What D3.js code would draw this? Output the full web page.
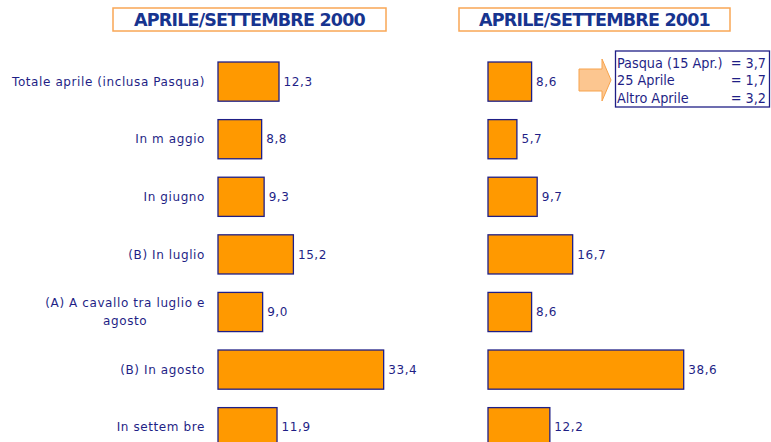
<!DOCTYPE html>
<html><head><meta charset="utf-8">
<script src="https://cdn.jsdelivr.net/npm/d3@7"></script>
<style>body{margin:0;background:#fff}svg{display:block}</style>
</head><body>
<svg id="c" width="771" height="442"></svg>
<script>
const categories = [
  "Totale aprile (inclusa Pasqua)",
  "In m aggio",
  "In giugno",
  "(B) In luglio",
  "(A) A cavallo tra luglio e|agosto",
  "(B) In agosto",
  "In settem bre"
];
const values2000 = [12.3, 8.8, 9.3, 15.2, 9.0, 33.4, 11.9];
const values2001 = [8.6, 5.7, 9.7, 16.7, 8.6, 38.6, 12.2];
const titles = ["APRILE/SETTEMBRE 2000", "APRILE/SETTEMBRE 2001"];
const noteLabels = ["Pasqua (15 Apr.)", "25 Aprile", "Altro Aprile"];
const noteValues = ["= 3,7", "= 1,7", "= 3,2"];

const svg = d3.select("#c");
const navy = "#1f1f86", titleCol = "#17348f", orange = "#ff9900";
const fmt = v => d3.format(".1f")(v).replace(".", ",");

const y = d3.scaleBand().domain(categories).range([52.8, 456]).paddingInner(0.32).paddingOuter(0.16);
const x1 = d3.scaleLinear().domain([0, 40]).range([218, 218 + 40 * 4.96]);
const x2 = d3.scaleLinear().domain([0, 40]).range([488, 488 + 40 * 5.07]);

// category labels
const lab = svg.append("g").attr("font-family", "DejaVu Sans, Verdana, sans-serif")
  .attr("font-size", 12).attr("fill", navy).attr("text-anchor", "end");
const lines = [];
categories.forEach(c => {
  const parts = c.split("|");
  const cy = y(c) + y.bandwidth() / 2;
  parts.forEach((p, i) => {
    const off = parts.length === 1 ? 0 : (i === 0 ? -9 : 9);
    const t = lab.append("text").attr("x", 205).attr("y", cy + off).attr("dy", "0.35em").text(p);
    lines.push({t, p, c, i});
  });
});
// fit label spacing to reference width
(function(){
  const first = lines[0].t;
  const w = first.node().getComputedTextLength();
  const ls = (193 - w) / (categories[0].length);
  lab.attr("letter-spacing", ls);
  const l1 = lines.find(o => o.c === categories[4] && o.i === 0).t;
  const l2 = lines.find(o => o.c === categories[4] && o.i === 1).t;
  const w1 = l1.node().getComputedTextLength();
  l2.attr("text-anchor", "middle").attr("x", 205 - w1 / 2);
})();

function panel(xs, vals) {
  const g = svg.append("g");
  g.selectAll("rect").data(vals).join("rect")
    .attr("x", xs(0)).attr("y", (d, i) => y(categories[i]))
    .attr("width", d => xs(d) - xs(0)).attr("height", y.bandwidth())
    .attr("fill", orange).attr("stroke", navy).attr("stroke-width", 1.3);
  g.selectAll("text").data(vals).join("text")
    .attr("x", d => xs(d) + 4.5).attr("y", (d, i) => y(categories[i]) + y.bandwidth() / 2)
    .attr("dy", "0.35em").attr("font-family", "DejaVu Sans, Verdana, sans-serif")
    .attr("font-size", 12).attr("letter-spacing", 0.6).attr("fill", navy).text(fmt);
}
panel(x1, values2000);
panel(x2, values2001);

// title boxes
const boxes = [{x0: 113, x1: 386}, {x0: 459, x1: 730}];
boxes.forEach((b, i) => {
  svg.append("rect").attr("x", b.x0).attr("y", 8).attr("width", b.x1 - b.x0).attr("height", 23)
    .attr("fill", "#fff").attr("stroke", "#f9a756").attr("stroke-width", 1.5);
  const t = svg.append("text").attr("x", (b.x0 + b.x1) / 2).attr("y", 26)
    .attr("text-anchor", "middle").attr("font-family", "DejaVu Sans, Verdana, sans-serif")
    .attr("font-weight", "bold").attr("font-size", 17.5).attr("fill", titleCol).text(titles[i]);
  const w = t.node().getComputedTextLength();
  t.attr("letter-spacing", (231 - w) / titles[i].length);
});

// arrow
const arrowPts = [[579,69],[602,69],[602,59],[611,80],[602,101],[602,91],[579,91]];
svg.append("path").attr("d", d3.line()(arrowPts) + "Z")
  .attr("fill", "#fcc690").attr("stroke", "#f7a34c").attr("stroke-width", 1);

// note box
svg.append("rect").attr("x", 615.5).attr("y", 51).attr("width", 154).attr("height", 56)
  .attr("fill", "#fff").attr("stroke", navy).attr("stroke-width", 1.3);
const noteG = svg.append("g").attr("font-family", "DejaVu Sans Condensed, DejaVu Sans, sans-serif")
  .attr("font-size", 14.3).attr("fill", navy);
noteLabels.forEach((l, i) => {
  noteG.append("text").attr("x", 617).attr("y", 68 + i * 17.3).text(l);
  noteG.append("text").attr("x", 766).attr("y", 68 + i * 17.3).attr("text-anchor", "end").text(noteValues[i]);
});
</script>
</body></html>
